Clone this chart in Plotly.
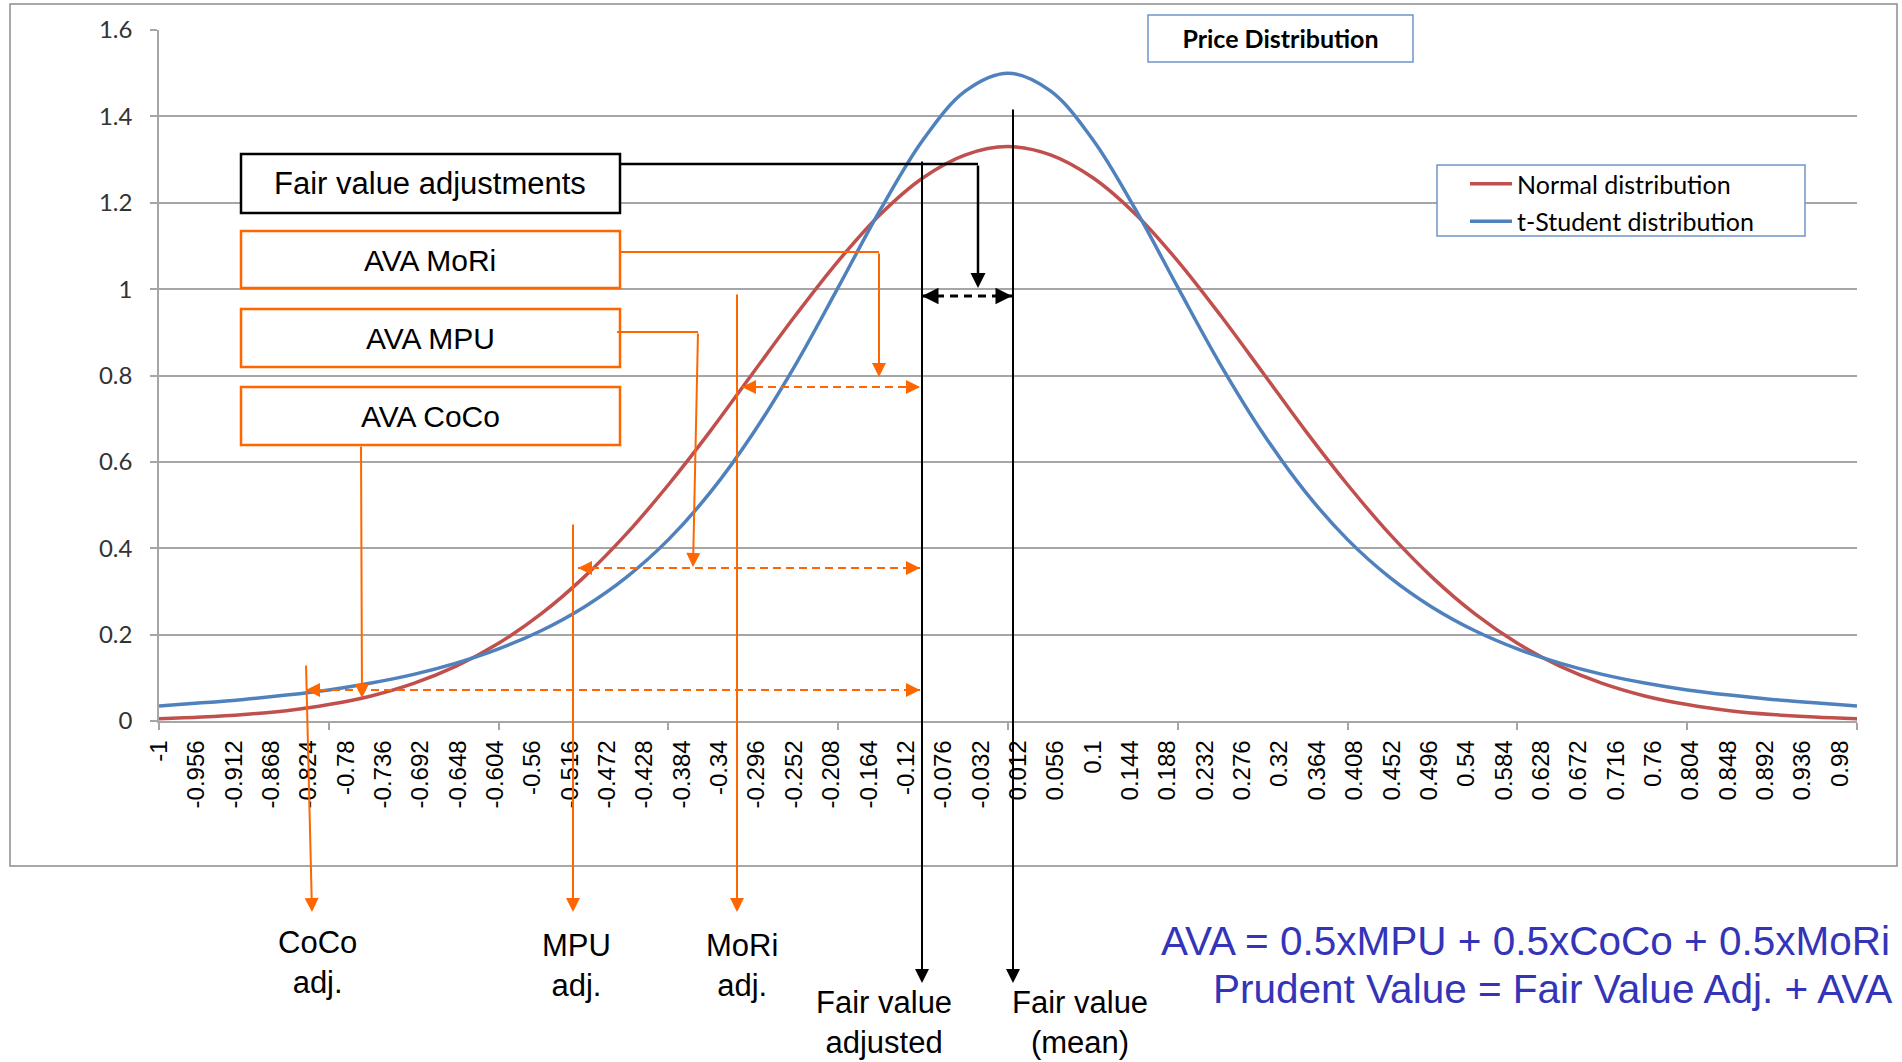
import plotly.graph_objects as go

# ---------------- data ----------------
x_values = [-1.00, -0.95, -0.90, -0.85, -0.80, -0.75, -0.70, -0.65, -0.60, -0.55,
            -0.50, -0.45, -0.40, -0.35, -0.30, -0.25, -0.20, -0.15, -0.10, -0.05,
            0.00, 0.05, 0.10, 0.15, 0.20, 0.25, 0.30, 0.35, 0.40, 0.45,
            0.50, 0.55, 0.60, 0.65, 0.70, 0.75, 0.80, 0.85, 0.90, 0.95, 1.00]

normal_values = [0.005, 0.009, 0.015, 0.024, 0.038, 0.058, 0.087, 0.127, 0.180, 0.248,
                 0.332, 0.432, 0.547, 0.673, 0.807, 0.940, 1.065, 1.174, 1.258, 1.311,
                 1.330, 1.311, 1.258, 1.174, 1.065, 0.940, 0.807, 0.673, 0.547, 0.432,
                 0.332, 0.248, 0.180, 0.127, 0.087, 0.058, 0.038, 0.024, 0.015, 0.009, 0.005]

t_student_values = [0.035, 0.042, 0.050, 0.060, 0.072, 0.088, 0.108, 0.134, 0.167, 0.209,
                    0.263, 0.332, 0.420, 0.531, 0.667, 0.826, 1.004, 1.185, 1.346, 1.459,
                    1.500, 1.459, 1.346, 1.185, 1.004, 0.826, 0.667, 0.531, 0.420, 0.332,
                    0.263, 0.209, 0.167, 0.134, 0.108, 0.088, 0.072, 0.060, 0.050, 0.042, 0.035]

x_tick_labels = ["-1", "-0.956", "-0.912", "-0.868", "-0.824", "-0.78", "-0.736", "-0.692",
                 "-0.648", "-0.604", "-0.56", "-0.516", "-0.472", "-0.428", "-0.384", "-0.34",
                 "-0.296", "-0.252", "-0.208", "-0.164", "-0.12", "-0.076", "-0.032", "0.012",
                 "0.056", "0.1", "0.144", "0.188", "0.232", "0.276", "0.32", "0.364", "0.408",
                 "0.452", "0.496", "0.54", "0.584", "0.628", "0.672", "0.716", "0.76", "0.804",
                 "0.848", "0.892", "0.936", "0.98"]
x_tick_values = [float(s) for s in x_tick_labels]

series_names = ["Normal distribution", "t-Student distribution"]
series_colors = ["#C0504D", "#4F81BD"]

# ---------------- layout geometry (pixels) ----------------
W, H = 1902, 1062
PL, PR, PT, PB = 159, 1857, 30, 721


def px(x):
    return (x - PL) / (PR - PL)


def py(y):
    return (PB - y) / (PB - PT)


ARIAL = "Liberation Sans, Arial, sans-serif"
CALIBRI = "Lato, Calibri, sans-serif"
ORANGE = "#FF6600"
BLACK = "#000000"
GRID = "#A6A6A6"

fig = go.Figure()
for name, vals, col, grp in zip(series_names, [normal_values, t_student_values], series_colors, ["n", "t"]):
    fig.add_trace(go.Scatter(x=x_values, y=vals, mode="lines", name=name, legendgroup=grp,
                             line=dict(color=col, width=3.5, shape="spline"),
                             hoverinfo="skip"))

shapes = []


def rect(x0, y0, x1, y1, color, width, fill="white", layer="above"):
    shapes.append(dict(type="rect", xref="paper", yref="paper", x0=px(x0), x1=px(x1),
                       y0=py(y0), y1=py(y1), line=dict(color=color, width=width),
                       fillcolor=fill, layer=layer))


def seg(x0, y0, x1, y1, color, width, dash="solid"):
    shapes.append(dict(type="line", xref="paper", yref="paper", x0=px(x0), x1=px(x1),
                       y0=py(y0), y1=py(y1), line=dict(color=color, width=width, dash=dash),
                       layer="above"))


annotations = []


def arrow(hx, hy, tx, ty, color, width=2, size=1.4):
    annotations.append(dict(xref="paper", yref="paper", x=px(hx), y=py(hy), text="",
                            showarrow=True, arrowhead=2, arrowsize=size, arrowwidth=width,
                            arrowcolor=color, ax=tx - hx, ay=ty - hy, standoff=0,
                            startstandoff=0))


def label(x, y, text, size, color=BLACK, font=ARIAL, xanchor="center"):
    annotations.append(dict(xref="paper", yref="paper", x=px(x), y=py(y), text=text,
                            showarrow=False, xanchor=xanchor, yanchor="middle",
                            font=dict(family=font, size=size, color=color)))


def dashed_double(x0, x1, y, color, width, size, dash):
    seg(x0, y, x1, y, color, width, dash)
    arrow(x0, y, x0 + 14, y, color, width, size)
    arrow(x1, y, x1 - 14, y, color, width, size)


# outer chart frame
rect(10, 4, 1897, 866, "#8C8C8C", 1.5, fill="rgba(0,0,0,0)", layer="below")
# title box & legend box
rect(1148, 15, 1413, 62, "#6F95C9", 1.5)
rect(1437, 165, 1805, 236, "#6F95C9", 1.5)

# left boxes
rect(241, 154, 620, 213, BLACK, 2.5)
rect(241, 231, 620, 288, ORANGE, 2.5)
rect(241, 309, 620, 367, ORANGE, 2.5)
rect(241, 387, 620, 445, ORANGE, 2.5)
label(430, 184, "Fair value adjustments", 31)
label(430, 260, "AVA MoRi", 30)
label(430, 338, "AVA MPU", 30)
label(430, 416, "AVA CoCo", 30)

# black: fair value adjustment
seg(620, 164, 978, 164, BLACK, 2.5)
arrow(978, 288, 978, 164, BLACK, 2.5, 1.2)
dashed_double(922, 1012, 296, BLACK, 3, 1.1, "8px,6px")
arrow(1013, 983, 1013, 108, BLACK, 2, 1.4)
arrow(922, 983, 922, 160, BLACK, 2, 1.4)

# orange: MoRi
seg(620, 252, 879, 252, ORANGE, 2)
arrow(879, 377, 879, 252, ORANGE, 2, 1.4)
dashed_double(742, 920, 387, ORANGE, 2, 1.4, "8px,5px")
arrow(737, 912, 737, 293, ORANGE, 2, 1.4)

# orange: MPU
seg(617, 332, 698, 332, ORANGE, 2)
arrow(693, 567, 698, 332, ORANGE, 2, 1.4)
dashed_double(578, 920, 568, ORANGE, 2, 1.4, "8px,5px")
arrow(573, 912, 573, 523, ORANGE, 2, 1.4)

# orange: CoCo
arrow(362, 698, 361, 445, ORANGE, 2, 1.4)
dashed_double(306, 920, 690, ORANGE, 2, 1.4, "8px,5px")
arrow(312, 912, 306, 664, ORANGE, 2, 1.4)

# bottom labels
label(317, 962, "CoCo<br>adj.", 31)
label(576, 965, "MPU<br>adj.", 31)
label(742, 965, "MoRi<br>adj.", 31)
label(884, 1022, "Fair value<br>adjusted", 31)
label(1080, 1022, "Fair value<br>(mean)", 31)

# formula text
BLUE_TXT = "#3434B8"
label(1159, 941, "AVA = 0.5xMPU + 0.5xCoCo + 0.5xMoRi", 40.5, BLUE_TXT, ARIAL, "left")
label(1211, 989, "Prudent Value = Fair Value Adj. + AVA", 40.5, BLUE_TXT, ARIAL, "left")

fig.update_layout(
    width=W, height=H, autosize=False,
    margin=dict(l=PL, r=W - PR, t=PT, b=H - PB, pad=0),
    paper_bgcolor="white", plot_bgcolor="white",
    title=dict(text="<b>Price Distribution</b>", xref="paper", yref="container",
               x=px(1280.5), y=1 - 39 / H, xanchor="center", yanchor="middle",
               font=dict(family=CALIBRI, size=25, color=BLACK)),
    showlegend=True,
    legend=dict(x=px(1465), y=py(161), xanchor="left", yanchor="top",
                bgcolor="rgba(0,0,0,0)", borderwidth=0, tracegroupgap=2,
                itemwidth=42, font=dict(family=CALIBRI, size=25, color=BLACK)),
    shapes=shapes, annotations=annotations,
    xaxis=dict(range=[-1, 1.0], tickmode="array", tickvals=x_tick_values,
               ticktext=x_tick_labels, tickangle=-90, ticks="",
               tickfont=dict(family=ARIAL, size=24, color=BLACK),
               ticklabelstandoff=8,
               showgrid=False, zeroline=False, showline=True, linecolor=GRID, linewidth=1.5,
               minor=dict(tickmode="linear", tick0=-1, dtick=0.2, ticks="outside",
                          ticklen=7, tickwidth=1.5, tickcolor=GRID, showgrid=False)),
    yaxis=dict(range=[0, 1.6], dtick=0.2, tick0=0, ticks="outside", ticklen=7,
               tickwidth=1.5, tickcolor=GRID, showgrid=True, gridcolor=GRID, gridwidth=1.5,
               zeroline=False, showline=True, linecolor=GRID, linewidth=1.5,
               tickfont=dict(family=CALIBRI, size=24, color="#333333"),
               ticklabelstandoff=13),
)

fig.write_html("out.html", config={"displayModeBar": False},
               post_script="document.body.style.margin='0';document.body.style.overflow='hidden';")
